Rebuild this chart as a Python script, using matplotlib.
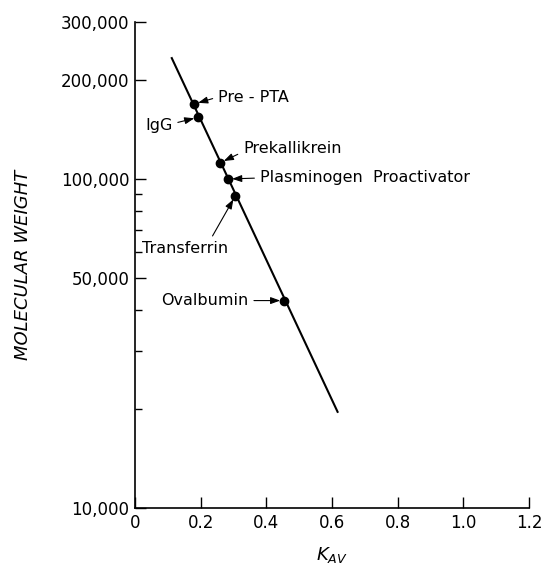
import matplotlib.pyplot as plt
from matplotlib.ticker import FixedLocator, NullFormatter

# protein standards (K_AV vs molecular weight)
names = ["Pre - PTA", "IgG", "Prekallikrein", "Plasminogen  Proactivator", "Transferrin", "Ovalbumin"]
kav = [0.180, 0.193, 0.259, 0.283, 0.306, 0.455]
mw = [169000, 154000, 112000, 100000, 89000, 42700]

# calibration line end points
fit_kav = [0.112, 0.617]
fit_mw = [233000, 19600]

yticks = [10000, 50000, 100000, 200000, 300000]
ytick_labels = ["10,000", "50,000", "100,000", "200,000", "300,000"]
yminor = [20000, 30000, 40000, 60000, 70000, 80000, 90000]
xticks = [0, 0.2, 0.4, 0.6, 0.8, 1.0, 1.2]
xtick_labels = ["0", "0.2", "0.4", "0.6", "0.8", "1.0", "1.2"]

# label placement: offset in pixels (dx, dy up), alignment, arrow start on text box
label_layout = [
    ((24, 7), "left", (0.0, 0.5)),
    ((-26, -8), "right", (1.0, 0.6)),
    ((23, 14), "left", (0.0, 0.3)),
    ((32, 1), "left", (0.0, 0.5)),
    ((-50, -53), "center", (0.78, 1.0)),
    ((-36, 0), "right", (1.0, 0.5)),
]

plt.rcParams["mathtext.fontset"] = "dejavusans"

fig = plt.figure(figsize=(5.48, 5.67), dpi=100)
ax = fig.add_axes([135 / 548, 1 - 508 / 567, 394 / 548, 486 / 567])

ax.plot(fit_kav, fit_mw, color="black", lw=1.5)
ax.plot(kav, mw, "o", color="black", ms=6)

px = 0.72  # points per pixel at 100 dpi
for name, x, y, (off, ha, rel) in zip(names, kav, mw, label_layout):
    ax.annotate(name, xy=(x, y), xytext=(off[0] * px, off[1] * px),
                textcoords="offset points", ha=ha, va="center", fontsize=11.5,
                arrowprops=dict(arrowstyle="-|>,head_length=0.5,head_width=0.18",
                                color="black", lw=0.8, relpos=rel,
                                shrinkA=2, shrinkB=3))

ax.set_yscale("log")
ax.set_xlim(0, 1.2)
ax.set_ylim(10000, 300000)
ax.yaxis.set_major_locator(FixedLocator(yticks))
ax.set_yticklabels(ytick_labels)
ax.yaxis.set_minor_locator(FixedLocator(yminor))
ax.yaxis.set_minor_formatter(NullFormatter())
ax.set_xticks(xticks)
ax.set_xticklabels(xtick_labels)

ax.tick_params(axis="both", which="major", direction="in", length=8, width=1,
               labelsize=12, pad=4)
ax.tick_params(axis="y", which="minor", direction="in", length=5, width=1)

for side in ["top", "right"]:
    ax.spines[side].set_visible(False)
for side in ["left", "bottom"]:
    ax.spines[side].set_linewidth(1.2)

ax.set_ylabel("MOLECULAR WEIGHT", fontsize=13, style="italic")
ax.yaxis.set_label_coords(-0.261, 0.5)
ax.set_xlabel("$K_{AV}$", fontsize=13)
ax.xaxis.set_label_coords(0.5, -0.076)

fig.savefig("out.png", dpi=100)
